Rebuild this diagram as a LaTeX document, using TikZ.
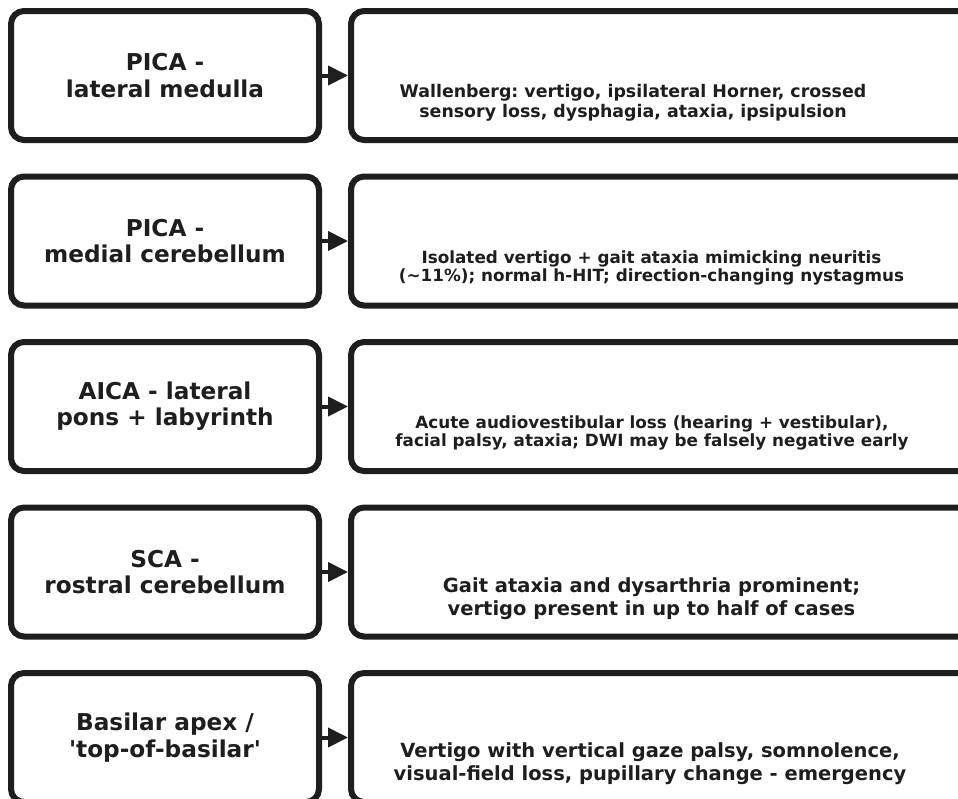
\documentclass[tikz,border=0pt]{standalone}
\usepackage{fontspec}
\setmainfont{DejaVu Sans}
\usetikzlibrary{arrows.meta}
\definecolor{ink}{RGB}{30,30,30}
\frenchspacing
\tikzset{
  leftbox/.style={draw=ink, line width=6pt, rounded corners=13pt, fill=white,
    minimum width=308pt, minimum height=129pt, inner sep=0pt, align=center,
    text=ink, font=\bfseries\fontsize{23.2}{26.3}\selectfont},
  rightbox/.style={draw=ink, line width=6pt, rounded corners=13pt, fill=white,
    minimum width=660pt, minimum height=129pt, inner sep=0pt},
  desc/.style={inner sep=0pt, align=center, anchor=base, text=ink,
    font=\bfseries\fontsize{16.8}{18.4}\selectfont},
  descwide/.style={desc, font=\bfseries\fontsize{17.4}{20}\selectfont},
  desclarge/.style={desc, font=\bfseries\fontsize{19.5}{22.4}\selectfont},
  link/.style={draw=ink, line width=4pt, -{Triangle[length=20pt,width=19pt]}}
}
\begin{document}
\begin{tikzpicture}[x=1pt,y=-1pt]
\clip (0,0) rectangle (958,798);
\fill[white] (0,0) rectangle (958,798);

% row 1
\node[leftbox] (l1) at (165,75.5) {PICA -\\lateral medulla};
\node[rightbox] (r1) at (681,75.5) {};
\node[descwide] (t1) at (633,117.3) {Wallenberg: vertigo, ipsilateral Horner, crossed\\sensory loss, dysphagia, ataxia, ipsipulsion};
\draw[link] (l1) -- (r1);

% row 2
\node[leftbox] (l2) at (165,241) {PICA -\\medial cerebellum};
\node[rightbox] (r2) at (681,241) {};
\node[desc] (t2) at (651.5,281.7) {Isolated vertigo + gait ataxia mimicking neuritis\\(\textasciitilde11\%); normal h-HIT; direction-changing nystagmus};
\draw[link] (l2) -- (r2);

% row 3
\node[leftbox] (l3) at (165,406.5) {AICA - lateral\\pons + labyrinth};
\node[rightbox] (r3) at (681,406.5) {};
\node[desc] (t3) at (652,446.7) {Acute audiovestibular loss (hearing + vestibular),\\facial palsy, ataxia; DWI may be falsely negative early};
\draw[link] (l3) -- (r3);

% row 4
\node[leftbox] (l4) at (165,572) {SCA -\\rostral cerebellum};
\node[rightbox] (r4) at (681,572) {};
\node[desclarge] (t4) at (651.5,615) {Gait ataxia and dysarthria prominent;\\vertigo present in up to half of cases};
\draw[link] (l4) -- (r4);

% row 5
\node[leftbox] (l5) at (165,737.5) {Basilar apex /\\\textquotesingle top-of-basilar\textquotesingle};
\node[rightbox] (r5) at (681,737.5) {};
\node[desclarge] (t5) at (650,780) {Vertigo with vertical gaze palsy, somnolence,\\visual-field loss, pupillary change - emergency};
\draw[link] (l5) -- (r5);
\end{tikzpicture}
\end{document}
